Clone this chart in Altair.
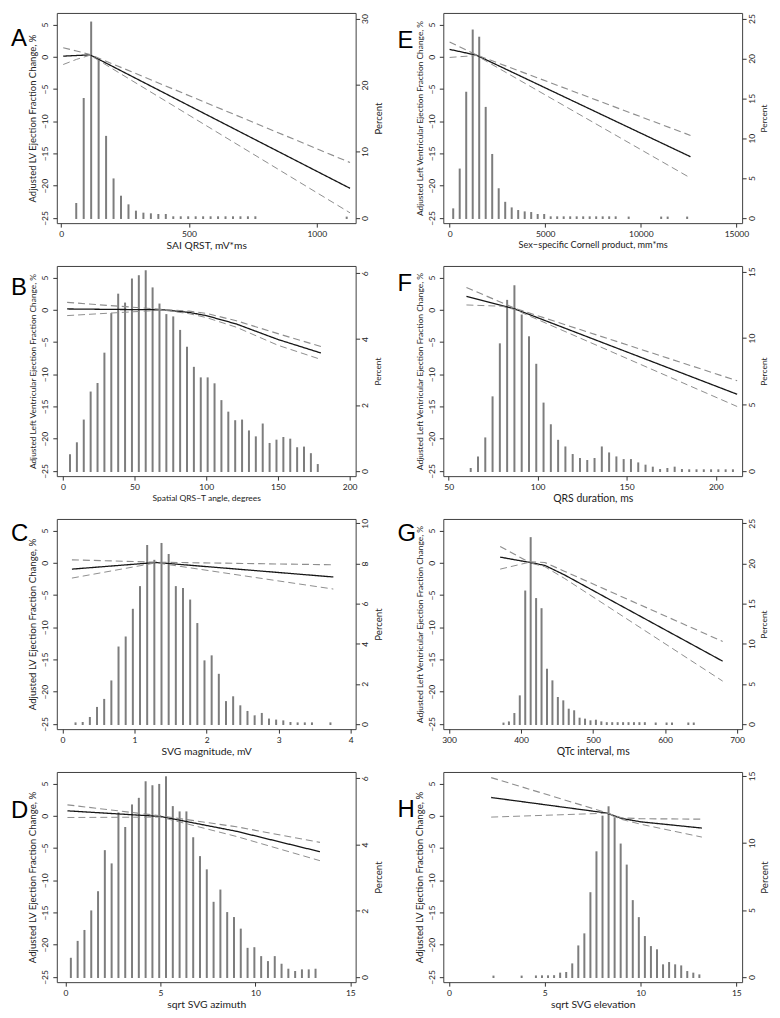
import altair as alt
import pandas as pd

FONT = "Lato"
LETTER_FONT = "Liberation Sans"

# ---------------- data ----------------
A_bin_start, A_bin_step = 59.0, 29.2
A_pct = [2.1, 17.9, 29.4, 23.9, 12.2, 5.8, 3.2, 1.9, 0.95, 0.65, 0.55, 0.45, 0.45,
         0.1, 0.1, 0.1, 0.1, 0.1, 0.1, 0.1, 0.1, 0.1, 0.1, 0.1, 0.1]
A_extra_x, A_extra_pct = [1117], [0.05]
A_curve_x = [8, 60, 113, 1130]
A_fit = [0.1, 0.2, 0.3, -20.4]
A_upper = [1.4, 0.9, 0.35, -16.4]
A_lower = [-1.2, -0.4, 0.25, -24.2]

E_bin_start, E_bin_step = 189.0, 339.9
E_pct = [1.08, 6.07, 15.7, 23.5, 22.6, 13.8, 7.9, 3.6, 1.9, 1.2, 0.87, 0.7, 0.62, 0.37, 0.37,
         0.08, 0.08, 0.08, 0.08, 0.08, 0.08, 0.08, 0.08, 0.08, 0.08, 0.08,
         0, 0.05, 0, 0, 0, 0, 0.05, 0.05, 0, 0, 0.05]
E_extra_x, E_extra_pct = [], []
E_curve_x = [0, 1400, 12600]
E_fit = [1.15, 0.25, -15.5]
E_upper = [2.3, 0.3, -12.2]
E_lower = [-0.1, 0.2, -18.8]

B_bin_start, B_bin_step = 5.0, 4.8
B_pct = [0.48, 0.84, 1.53, 2.38, 2.64, 3.56, 4.76, 5.35, 5.08, 5.81, 5.91, 6.06, 5.54,
         5.05, 4.73, 4.66, 4.25, 3.74, 3.13, 2.81, 2.81, 2.63, 2.12, 1.77, 1.51, 1.53,
         1.2, 1.02, 1.41, 0.82, 0.92, 1.0, 0.95, 0.69, 0.71, 0.51, 0.18]
B_extra_x, B_extra_pct = [], []
B_curve_x = [3, 40, 70, 88, 100, 121, 150, 180]
B_fit = [0.13, 0.05, 0.0, -0.4, -0.9, -2.2, -4.6, -6.7]
B_upper = [1.15, 0.54, 0.05, -0.2, -0.55, -1.7, -3.7, -5.7]
B_lower = [-0.9, -0.42, -0.05, -0.6, -1.2, -2.7, -5.5, -7.7]

F_bin_start, F_bin_step = 62.4, 4.09
F_pct = [0.15, 1.02, 2.45, 5.54, 9.53, 12.8, 13.9, 11.7, 10.06, 7.99, 5.07, 3.44, 2.27,
         1.77, 1.2, 0.9, 0.75, 0.9, 1.77, 1.32, 1.02, 0.82, 0.82, 0.57, 0.4, 0.25,
         0.07, 0.15, 0.25, 0.07, 0.05, 0.05, 0.05, 0.05, 0.05, 0.05, 0.05]
F_extra_x, F_extra_pct = [], []
F_curve_x = [60, 80, 87, 212]
F_fit = [2.1, 0.65, 0.15, -13.1]
F_upper = [3.45, 1.1, 0.25, -11.0]
F_lower = [0.75, 0.55, 0.05, -15.0]

C_bin_start, C_bin_step = 0.18, 0.0995
C_pct = [0.03, 0.05, 0.3, 0.8, 1.2, 2.12, 3.81, 4.31, 5.69, 6.82, 8.87, 8.13, 8.97, 8.42,
         6.82, 6.72, 6.15, 4.98, 3.12, 3.37, 2.45, 1.09, 1.33, 0.88, 0.6, 0.38, 0.5,
         0.22, 0.17, 0.13, 0.05, 0.03, 0.03, 0.03]
C_extra_x, C_extra_pct = [3.72], [0.03]
C_curve_x = [0.13, 1.3, 3.76]
C_fit = [-0.98, 0.05, -2.2]
C_upper = [0.46, 0.1, -0.31]
C_lower = [-2.37, 0.0, -4.07]

G_bin_start, G_bin_step = 375.6, 7.55
G_pct = [0.05, 0.2, 1.24, 3.44, 16.5, 23.15, 15.56, 14.3, 6.76, 5.31, 3.24, 2.82, 1.78,
         1.58, 0.66, 0.54, 0.33, 0.41, 0.2, 0.1, 0.1, 0.1, 0.1, 0.1, 0.1, 0.1, 0.1,
         0, 0.06, 0, 0.06, 0.06, 0, 0, 0.06, 0.06]
G_extra_x, G_extra_pct = [], []
G_curve_x = [371, 410, 433, 460, 680]
G_fit = [0.88, 0.1, -0.4, -1.86, -15.26]
G_upper = [2.53, 0.15, 0.05, -1.3, -12.2]
G_lower = [-0.98, 0.05, -0.6, -2.4, -18.35]

D_bin_start, D_bin_step = 0.28, 0.358
D_pct = [0.55, 1.06, 1.39, 1.98, 2.56, 3.8, 3.4, 4.94, 4.5, 5.18, 5.38, 5.88, 5.76, 5.8,
         6.03, 5.13, 4.97, 4.97, 4.19, 3.62, 3.22, 2.24, 2.61, 1.93, 1.78, 1.43, 0.85,
         0.87, 0.6, 0.45, 0.6, 0.37, 0.22, 0.15, 0.2, 0.2, 0.22]
D_extra_x, D_extra_pct = [], []
D_curve_x = [0.1, 5, 9, 13.4]
D_fit = [0.77, -0.1, -2.4, -5.57]
D_upper = [1.7, 0.0, -1.7, -4.12]
D_lower = [-0.26, -0.2, -3.2, -6.96]

H_bin_start, H_bin_step = 4.536, 0.316
H_pct = [0.04, 0.05, 0.05, 0.06, 0.25, 0.3, 0.94, 2.28, 3.18, 6.25, 9.3, 11.96, 12.66,
         11.84, 9.88, 8.31, 5.66, 4.39, 2.98, 2.23, 1.99, 0.87, 1.04, 0.87, 0.79, 0.37,
         0.25, 0.12]
H_extra_x, H_extra_pct = [2.32, 3.79], [0.03, 0.03]
H_curve_x = [2.2, 8.2, 9.0, 10.0, 13.2]
H_fit = [2.84, 0.45, -0.4, -0.93, -1.9]
H_upper = [5.93, 0.5, -0.3, -0.45, -0.52]
H_lower = [-0.2, 0.4, -0.55, -1.3, -3.3]

Y_LV = "Adjusted LV Ejection Fraction Change, %"
Y_LEFT = "Adjusted Left Ventricular Ejection Fraction Change, %"
LEFT_TICKS = [-25, -20, -15, -10, -5, 0, 5]
LEFT_DOMAIN = [-25.8, 6.8]

# ---------------- panel settings (layout/style) ----------------
PANELS = {
    "A": dict(bs=A_bin_start, st=A_bin_step, pct=A_pct, ex=A_extra_x, ep=A_extra_pct,
              cx=A_curve_x, fit=A_fit, up=A_upper, lo=A_lower, xdom=[-17, 1152],
              xt=[0, 500, 1000], xtitle="SAI QRST, mV*ms", ytitle=Y_LV,
              pt=[0, 10, 20, 30], pmax=30, top=5.93, ly=33, xfs=10.3, yfs=9.5),
    "E": dict(bs=E_bin_start, st=E_bin_step, pct=E_pct, ex=E_extra_x, ep=E_extra_pct,
              cx=E_curve_x, fit=E_fit, up=E_upper, lo=E_lower, xdom=[-330, 15300],
              xt=[0, 5000, 10000, 15000], xtitle="Sex\u2212specific Cornell product, mm*ms",
              ytitle=Y_LEFT, pt=[0, 5, 10, 15, 20, 25], pmax=25, top=5.93, ly=35,
              xfs=9.2, yfs=8.4),
    "B": dict(bs=B_bin_start, st=B_bin_step, pct=B_pct, ex=B_extra_x, ep=B_extra_pct,
              cx=B_curve_x, fit=B_fit, up=B_upper, lo=B_lower, xdom=[-4.2, 204.2],
              xt=[0, 50, 100, 150, 200], xtitle="Spatial QRS\u2212T angle, degrees",
              ytitle=Y_LEFT, pt=[0, 2, 4, 6], pmax=6, top=5.67, ly=29, xfs=8.5, yfs=8.4),
    "F": dict(bs=F_bin_start, st=F_bin_step, pct=F_pct, ex=F_extra_x, ep=F_extra_pct,
              cx=F_curve_x, fit=F_fit, up=F_upper, lo=F_lower, xdom=[47, 214.8],
              xt=[50, 100, 150, 200], xtitle="QRS duration, ms", ytitle=Y_LEFT,
              pt=[0, 5, 10, 15], pmax=15, top=5.92, ly=25, xfs=10.5, yfs=8.5),
    "C": dict(bs=C_bin_start, st=C_bin_step, pct=C_pct, ex=C_extra_x, ep=C_extra_pct,
              cx=C_curve_x, fit=C_fit, up=C_upper, lo=C_lower, xdom=[-0.08, 4.07],
              xt=[0, 1, 2, 3, 4], xtitle="SVG magnitude, mV", ytitle=Y_LV,
              pt=[0, 2, 4, 6, 8, 10], pmax=10, top=6.13, ly=22, xfs=10.4, yfs=9.7),
    "G": dict(bs=G_bin_start, st=G_bin_step, pct=G_pct, ex=G_extra_x, ep=G_extra_pct,
              cx=G_curve_x, fit=G_fit, up=G_upper, lo=G_lower, xdom=[292, 707],
              xt=[300, 400, 500, 600, 700], xtitle="QTc interval, ms", ytitle=Y_LEFT,
              pt=[0, 5, 10, 15, 20, 25], pmax=25, top=6.13, ly=22, xfs=10.5, yfs=8.5),
    "D": dict(bs=D_bin_start, st=D_bin_step, pct=D_pct, ex=D_extra_x, ep=D_extra_pct,
              cx=D_curve_x, fit=D_fit, up=D_upper, lo=D_lower, xdom=[-0.46, 15.28],
              xt=[0, 5, 10, 15], xtitle="sqrt SVG azimuth", ytitle=Y_LV,
              pt=[0, 2, 4, 6], pmax=6, top=5.82, ly=46, xfs=10.4, yfs=9.7),
    "H": dict(bs=H_bin_start, st=H_bin_step, pct=H_pct, ex=H_extra_x, ep=H_extra_pct,
              cx=H_curve_x, fit=H_fit, up=H_upper, lo=H_lower, xdom=[-0.3, 15.3],
              xt=[0, 5, 10, 15], xtitle="sqrt SVG elevation", ytitle=Y_LV,
              pt=[0, 5, 10, 15], pmax=15, top=6.19, ly=45, xfs=10.4, yfs=9.7),
}

W, H = 300, 211
BAR_COLOR = "#7d7d7d"
CI_COLOR = "#8e8e8e"
FIT_COLOR = "#161616"


def make_panel(letter, p):
    hx = [p["bs"] + p["st"] * i for i in range(len(p["pct"]))] + list(p["ex"])
    hp = list(p["pct"]) + list(p["ep"])
    hist = pd.DataFrame({"x": hx, "pct": hp})
    hist = hist[hist["pct"] > 0].copy()
    hist["base"] = 0.0

    n = len(p["cx"])
    curves = pd.DataFrame({
        "x": list(p["cx"]) * 3,
        "y": list(p["fit"]) + list(p["up"]) + list(p["lo"]),
        "kind": ["fit"] * n + ["upper"] * n + ["lower"] * n,
    })

    k = (25 + p["top"]) / p["pmax"]
    rdom = [(LEFT_DOMAIN[0] + 25) / k, (LEFT_DOMAIN[1] + 25) / k]

    xscale = alt.Scale(domain=p["xdom"], nice=False, zero=False)
    xaxis = alt.Axis(values=p["xt"], title=p["xtitle"], labelFlush=False,
                     labelOverlap=False, format="d" if max(p["xt"]) >= 10 else "~g",
                     labelPadding=2, titlePadding=3, titleFontSize=p["xfs"])

    bars = alt.Chart(hist).mark_rule(color=BAR_COLOR, strokeWidth=2, strokeCap="square").encode(
        x=alt.X("x:Q", scale=xscale, axis=xaxis),
        y=alt.Y("pct:Q", scale=alt.Scale(domain=rdom, nice=False, zero=False),
                axis=alt.Axis(orient="right", values=p["pt"], title="Percent",
                              labelAngle=-90, labelAlign="center", labelBaseline="top",
                              labelPadding=1, titleAngle=-90, titleBaseline="top",
                              titlePadding=4, labelOverlap=False, labelFlush=False,
                              titleFontSize=p["yfs"])),
        y2="base:Q",
    )

    kinds = ["fit", "upper", "lower"]
    lines = alt.Chart(curves).mark_line(interpolate="linear").encode(
        x=alt.X("x:Q", scale=xscale, axis=xaxis),
        y=alt.Y("y:Q", scale=alt.Scale(domain=LEFT_DOMAIN, nice=False, zero=False),
                axis=alt.Axis(orient="left", values=LEFT_TICKS, title=p["ytitle"],
                              labelAngle=-90, labelAlign="center", labelBaseline="bottom",
                              labelPadding=3, titlePadding=3, labelOverlap=False,
                              labelFlush=False, titleFontSize=p["yfs"])),
        detail="kind:N",
        color=alt.Color("kind:N", scale=alt.Scale(domain=kinds, range=[FIT_COLOR, CI_COLOR, CI_COLOR]),
                        legend=None),
        strokeDash=alt.StrokeDash("kind:N", scale=alt.Scale(domain=kinds, range=[[1, 0], [7, 4], [7, 4]]),
                                  legend=None),
        strokeWidth=alt.StrokeWidth("kind:N", scale=alt.Scale(domain=kinds, range=[1.3, 1.0, 1.0]),
                                    legend=None),
    )

    lab = alt.Chart(pd.DataFrame({"t": [letter]})).mark_text(
        align="left", baseline="alphabetic", font=LETTER_FONT, fontSize=24, color="#000"
    ).encode(x=alt.value(-46), y=alt.value(p["ly"]), text="t:N")

    return alt.layer(bars, lines, lab).resolve_scale(
        y="independent", color="independent", strokeDash="independent", strokeWidth="independent"
    ).properties(width=W, height=H)


ORDER = ["A", "E", "B", "F", "C", "G", "D", "H"]
panels = [make_panel(L, PANELS[L]) for L in ORDER]

chart = alt.concat(*panels, columns=2, spacing={"row": 43, "column": 88}, bounds="flush",
                   padding={"left": 2, "top": 2, "right": 2, "bottom": 0}).configure(
    font=FONT
).configure_view(
    stroke="#404040", strokeWidth=1
).configure_axis(
    domain=False, grid=False, tickSize=4, tickColor="#333333", tickWidth=1,
    labelFont=FONT, labelFontSize=8.5, labelColor="#222222",
    titleFont=FONT, titleFontSize=8.5, titleFontWeight="normal", titleColor="#222222",
)

chart.save("out.html", embed_options={"renderer": "svg", "actions": False})
